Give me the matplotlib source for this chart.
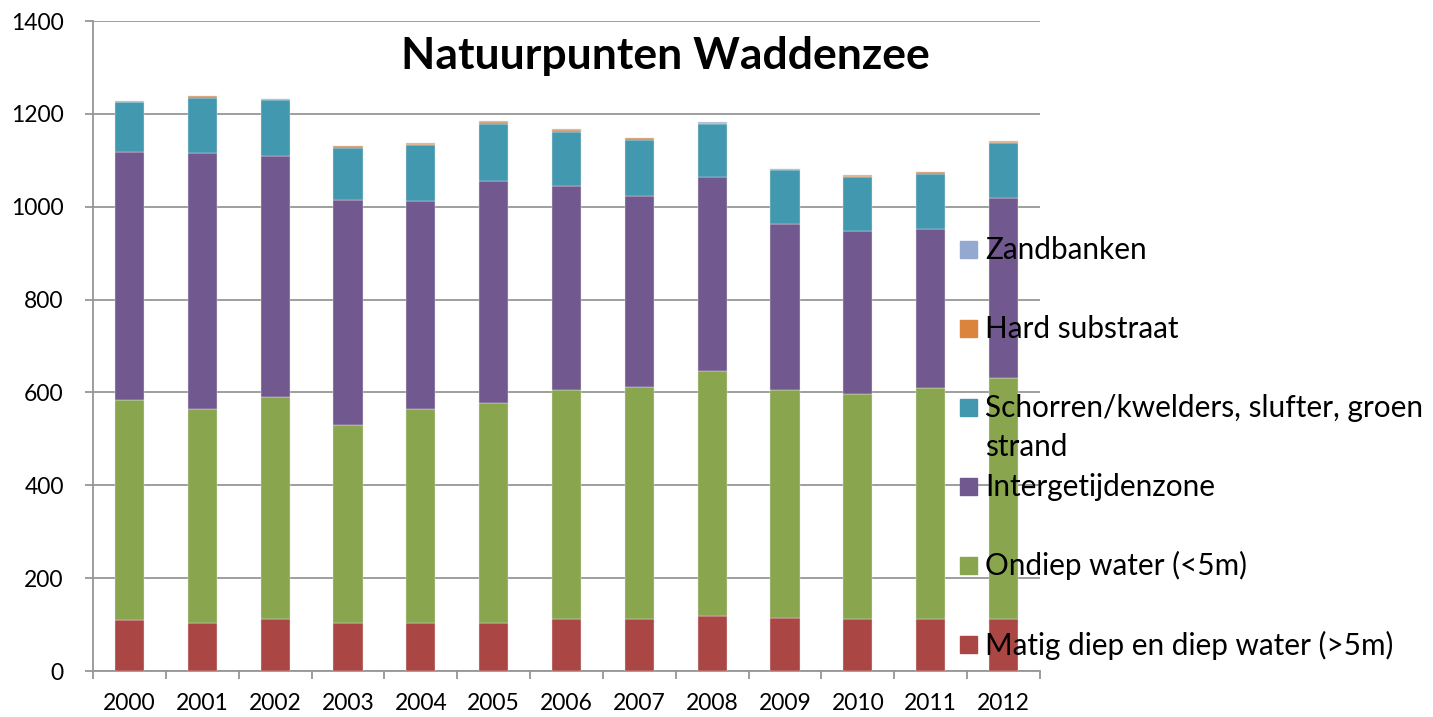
import matplotlib.pyplot as plt
import numpy as np
from matplotlib.patches import Rectangle

plt.rcParams['font.family'] = ['Lato', 'DejaVu Sans']

# data (segment heights per year)
years = ['2000', '2001', '2002', '2003', '2004', '2005', '2006',
         '2007', '2008', '2009', '2010', '2011', '2012']
diep = [110, 104, 113, 103, 104, 103, 111, 111, 118, 115, 113, 113, 113]
ondiep = [474, 461, 478, 427, 461, 474, 495, 500, 529, 491, 484, 497, 519]
intergetijden = [533, 550, 518, 485, 448, 479, 438, 413, 417, 356, 350, 343, 386]
schorren = [108, 119, 120, 111, 120, 123, 117, 119, 114, 117, 117, 117, 119]
hard = [1, 4, 3, 4, 3, 4, 5, 5, 3, 2, 3, 4, 3]
zandbanken = [1, 1, 1, 1, 1, 1, 1, 1, 1, 1, 1, 1, 1]

series = [diep, ondiep, intergetijden, schorren, hard, zandbanken]
labels = ['Matig diep en diep water (>5m)', 'Ondiep water (<5m)',
          'Intergetijdenzone', 'Schorren/kwelders, slufter, groen\nstrand',
          'Hard substraat', 'Zandbanken']
colors = ['#AA4643', '#89A54E', '#71588F', '#4198AF', '#DB843D', '#93A9CF']

fig = plt.figure(figsize=(14.33, 7.17), dpi=100)
ax = fig.add_axes([93 / 1433, 1 - 671 / 717, (1040 - 93) / 1433, 650 / 717])

x = np.arange(len(years))
bottom = np.zeros(len(years))
for vals, c in zip(series, colors):
    ax.bar(x, vals, 0.4, bottom=bottom, color=c, edgecolor='#e4e4e4',
           linewidth=0.3, zorder=3)
    bottom += np.array(vals)

ax.set_ylim(0, 1400)
ax.set_xlim(-0.5, len(years) - 0.5)
ax.set_yticks(np.arange(0, 1401, 200))
ax.yaxis.grid(True, color='#969696', linewidth=1.3, zorder=0)
ax.set_axisbelow(True)

ax.set_xticks(x)
ax.set_xticklabels(years)
ax.set_xticks(np.arange(-0.5, len(years)), minor=True)
ax.tick_params(axis='x', which='major', length=0, pad=16, labelsize=16.5)
ax.tick_params(axis='x', which='minor', length=6, color='#969696', width=1.3)
ax.tick_params(axis='y', length=6, color='#969696', width=1.3, labelsize=16.5, pad=15)

for s in ['top', 'right']:
    ax.spines[s].set_visible(False)
for s in ['left', 'bottom']:
    ax.spines[s].set_color('#969696')
    ax.spines[s].set_linewidth(1.3)

fig.text(665 / 1433, 1 - 56 / 717, 'Natuurpunten Waddenzee', fontsize=32,
         fontweight='bold', ha='center', va='center')

# legend drawn by hand, top to bottom
W, H = 1433, 717
y0, step = 249, 79.1
for i, (lab, c) in enumerate(zip(labels[::-1], colors[::-1])):
    yc = y0 + i * step
    fig.patches.append(Rectangle((960 / W, 1 - (yc + 8.5) / H), 17 / W, 17 / H,
                                 transform=fig.transFigure, color=c, zorder=5))
    for j, line in enumerate(lab.split('\n')):
        fig.text(985 / W, 1 - (yc + 10 + j * 39) / H, line, fontsize=21.4,
                 va='baseline', ha='left', zorder=6)

fig.savefig('out.png', dpi=100)
